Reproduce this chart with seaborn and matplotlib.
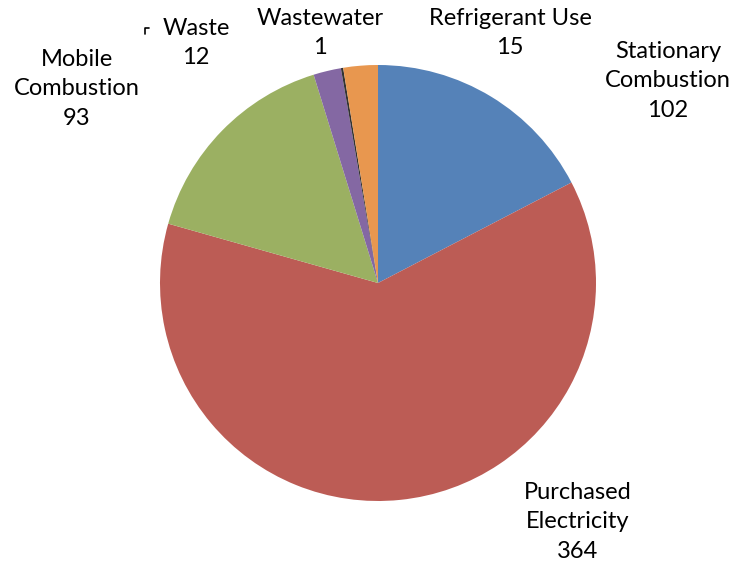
import matplotlib
matplotlib.use("Agg")
import matplotlib.pyplot as plt
import seaborn as sns

categories = ["Stationary\nCombustion", "Purchased\nElectricity", "Mobile\nCombustion",
              "Waste", "Wastewater", "Refrigerant Use"]
values = [102, 364, 93, 12, 1, 15]
colors = ["#5582B8", "#BC5C55", "#9BB062", "#8468A3", "#333333", "#E8974F"]

sns.set_theme(style="white")
plt.rcParams["font.family"] = ["Lato", "DejaVu Sans"]

fig = plt.figure(figsize=(7.38, 5.69), dpi=100)
ax = fig.add_axes([0, 0, 1, 1])
ax.pie(values, colors=colors, startangle=90, counterclock=False, radius=1.0,
       wedgeprops=dict(linewidth=0))

ax.set_xlim(-378 / 218, (738 - 378) / 218)
ax.set_ylim(-(569 - 283) / 218, 283 / 218)
ax.set_aspect("equal")
ax.axis("off")

label_pos = [(1.330, 0.927), (0.917, -1.096), (-1.381, 0.890),
             (-0.835, 1.101), (-0.266, 1.147), (0.606, 1.147)]
for cat, val, (x, y) in zip(categories, values, label_pos):
    ax.text(x, y, f"{cat}\n{val}", ha="center", va="center", fontsize=17,
            color="black", linespacing=1.5)

# small leader-line stub beside the Waste label
wx, wy = label_pos[3]
ax.plot([wx - 0.235, wx - 0.235, wx - 0.215], [wy + 0.040, wy + 0.070, wy + 0.070],
        color="black", lw=1.2)

fig.savefig("out.png", dpi=100)
